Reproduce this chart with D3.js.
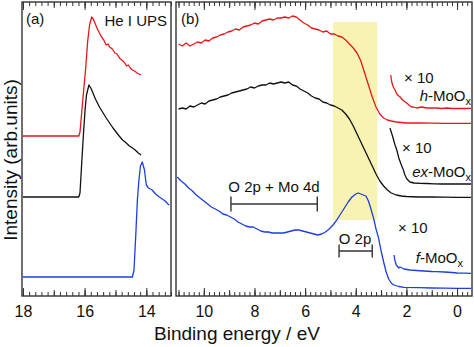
<!DOCTYPE html>
<html>
<head>
<meta charset="utf-8">
<script src="https://cdn.jsdelivr.net/npm/d3@7"></script>
<style>
  body { margin: 0; background: #fff; }
  svg { font-family: "Liberation Sans", Arial, sans-serif; }
</style>
</head>
<body>
<svg id="chart" width="474" height="347"></svg>
<script>
// He I UPS, secondary electron cutoff (binding energy eV, intensity)
const cutoffH = [[18.0,160],[16.19,160],[16.15,164],[16.06,196],[15.97,226],[15.9,255],[15.84,271],[15.77,279],[15.72,277],[15.68,274],[15.6,268],[15.52,263],[15.45,259],[15.38,256],[15.3,251],[15.24,252],[15.19,249],[15.1,247],[15.02,243],[14.95,242],[14.87,238],[14.8,236],[14.72,234],[14.64,230],[14.58,231],[14.52,228],[14.45,226],[14.38,225],[14.3,223],[14.24,222],[14.17,221]];
const cutoffEx = [[18.0,99],[16.19,99],[16.15,103],[16.09,135],[16.03,166],[15.98,188],[15.94,201],[15.86,211],[15.8,208],[15.77,206],[15.65,197],[15.52,189],[15.42,184],[15.3,178],[15.19,173],[15.08,168],[14.98,164],[14.88,160],[14.77,156],[14.65,153],[14.55,150],[14.45,148],[14.36,146],[14.26,143],[14.17,141]];
const cutoffF = [[18.0,19],[14.45,19],[14.4,26],[14.34,62],[14.29,96],[14.24,116],[14.19,130],[14.13,134],[14.06,126],[14.0,111],[13.93,108],[13.81,106],[13.7,102],[13.58,99],[13.48,97],[13.39,95],[13.3,92],[13.26,91]];

// valence band region
const vbH = [[11.0,252],[10.85,250],[10.7,253],[10.55,250],[10.4,252],[10.25,254],[10.1,253],[9.95,256],[9.8,255],[9.65,258],[9.5,259],[9.35,261],[9.2,262],[9.05,264],[8.9,265],[8.75,267],[8.6,266],[8.45,269],[8.3,270],[8.15,271],[8.0,273],[7.85,272],[7.7,275],[7.55,276],[7.4,277],[7.25,276],[7.1,278],[6.95,278],[6.8,279],[6.65,278],[6.5,280],[6.35,279],[6.2,276],[6.05,273],[5.9,271],[5.75,268],[5.6,267],[5.45,266],[5.3,264],[5.15,265],[5.0,262],[4.85,262],[4.7,260],[4.55,259],[4.4,256],[4.25,252],[4.1,248],[3.95,243],[3.8,235],[3.65,223],[3.5,211],[3.35,199],[3.2,189],[3.05,182],[2.9,178],[2.75,176],[2.6,175],[2.4,174],[2.2,173.5],[2.0,173],[1.5,173],[1.0,172.8],[0.5,172.7],[0,172.6],[-0.55,172.6]];
const vbEx = [[11.0,187],[10.85,188],[10.7,187],[10.55,190],[10.4,189],[10.25,191],[10.1,193],[9.95,192],[9.8,195],[9.65,196],[9.5,197],[9.35,199],[9.2,200],[9.05,201],[8.9,203],[8.75,204],[8.6,205],[8.45,206],[8.3,207],[8.15,209],[8.0,208],[7.85,210],[7.7,211],[7.55,211],[7.4,213],[7.25,212],[7.1,213],[6.95,214],[6.8,213],[6.65,214],[6.5,211],[6.35,210],[6.2,207],[6.05,205],[5.9,203],[5.75,200],[5.6,198],[5.45,197],[5.3,194],[5.15,193],[5.0,191],[4.85,190],[4.7,188],[4.55,186],[4.4,182],[4.25,177],[4.1,170],[3.95,162],[3.8,154],[3.65,146],[3.5,138],[3.35,130],[3.2,122],[3.05,115],[2.9,110],[2.75,106],[2.6,103],[2.4,101],[2.2,100],[2.0,99.5],[1.5,99],[1.0,99],[0.5,98.8],[0,98.7],[-0.55,98.7]];
const vbF = [[11.05,119],[10.9,115],[10.75,112],[10.6,108],[10.45,105],[10.3,101],[10.15,98],[10.0,95],[9.85,92],[9.7,89],[9.55,87],[9.4,85],[9.25,82],[9.1,81],[8.95,79],[8.8,77],[8.65,74],[8.5,72],[8.35,70],[8.2,69],[8.05,69],[7.9,67],[7.75,65],[7.6,64],[7.45,64],[7.3,63],[7.15,63],[7.0,63],[6.85,63],[6.7,64],[6.55,65],[6.4,66],[6.25,66],[6.1,65],[5.95,64],[5.8,63],[5.65,62],[5.5,61],[5.35,62],[5.2,64],[5.05,67],[4.9,71],[4.75,76],[4.6,82],[4.45,88],[4.3,94],[4.15,99],[4.0,102],[3.9,103],[3.8,102],[3.7,101],[3.6,100],[3.5,95],[3.4,87],[3.3,78],[3.2,67],[3.1,58],[3.0,45],[2.9,34],[2.8,24],[2.7,17],[2.6,13],[2.5,11],[2.3,9.5],[2.1,8.7],[1.5,8.3],[1.0,8.0],[0.5,7.8],[0,7.7],[-0.55,7.6]];

// gap region magnified x10
const gapH = [[2.62,221],[2.58,214],[2.52,209],[2.45,206],[2.38,202],[2.3,200],[2.25,199],[2.15,196],[2.05,194],[1.99,193],[1.9,191],[1.8,189],[1.73,189],[1.6,188],[1.4,189],[1.2,188],[1.0,188],[0.8,188],[0.6,187.5],[0.4,188],[0.2,187.5],[0,187.7],[-0.3,187.5],[-0.55,187.7]];
const gapEx = [[2.65,168],[2.55,160],[2.45,151],[2.38,146],[2.3,138],[2.2,131],[2.12,126],[2.06,121],[1.98,117],[1.86,114],[1.7,113],[1.46,112.7],[1.2,112.5],[0.9,112.2],[0.6,112],[0.3,112],[0,112],[-0.3,112],[-0.55,112]];
const gapF = [[2.49,41],[2.45,35],[2.4,31],[2.3,28],[2.25,29],[2.1,27],[1.86,26],[1.6,25.5],[1.3,25],[1.0,24.5],[0.8,24.3],[0.5,24],[0.2,23.5],[0,23],[-0.3,22.8],[-0.55,22.7]];

const ticksA = [18, 16, 14];
const ticksB = [10, 8, 6, 4, 2, 0];
const band = [4.9, 3.15];          // highlighted energy window
const bandLevels = [76, 274];
const rangeMo = [8.93, 5.52];      // O 2p + Mo 4d
const rangeO = [4.66, 3.35];       // O 2p
const colors = { h: "#e8161c", ex: "#111111", f: "#1d3fe0" };

const svg = d3.select("#chart");
const yTop = 2, yBottom = 296;

const xa = d3.scaleLinear().domain([18.03, 13.2]).range([22, 171]);
const xb = d3.scaleLinear().domain([11.1, -0.59]).range([176, 472]);
const y = d3.scaleLinear().domain([0, 294]).range([yBottom, yTop]);

function stepTicks(x, step) {
  const [a, b] = x.domain();
  const lo = Math.min(a, b), hi = Math.max(a, b);
  const out = [];
  for (let i = Math.ceil(lo / step - 1e-6); i * step <= hi + 1e-6; i++) out.push(+(i * step).toFixed(2));
  return out;
}

function drawAxes(x, labels) {
  const minor = stepTicks(x, 0.2);
  const mid = stepTicks(x, 1);
  const specs = [[minor, 4], [mid, 6], [labels, 8]];
  specs.forEach(([vals, len]) => {
    svg.append("g")
      .attr("transform", `translate(0,${yBottom})`)
      .call(d3.axisBottom(x).tickValues(vals).tickSize(-len).tickFormat(""))
      .call(g => g.select(".domain").remove());
    svg.append("g")
      .attr("transform", `translate(0,${yTop})`)
      .call(d3.axisTop(x).tickValues(vals).tickSize(-len).tickFormat(""))
      .call(g => g.select(".domain").remove());
  });
  svg.append("g")
    .attr("transform", `translate(0,${yBottom})`)
    .call(d3.axisBottom(x).tickValues(labels).tickSize(0).tickPadding(10).tickFormat(d3.format("d")))
    .call(g => g.select(".domain").remove())
    .selectAll("text")
    .attr("font-size", 16)
    .attr("fill", "#111")
    .attr("font-family", "Liberation Sans, Arial, sans-serif");
  svg.selectAll(".tick line").attr("stroke", "#333");
}

// highlight band behind panel (b) curves
svg.append("rect")
  .attr("x", xb(band[0]))
  .attr("width", xb(band[1]) - xb(band[0]))
  .attr("y", y(bandLevels[1]))
  .attr("height", y(bandLevels[0]) - y(bandLevels[1]))
  .attr("fill", "#f8f3b2");

const line = (x) => d3.line().x(d => x(d[0])).y(d => y(d[1]));

function curve(x, data, color) {
  svg.append("path").datum(data)
    .attr("d", line(x))
    .attr("fill", "none")
    .attr("stroke", color)
    .attr("stroke-width", 1.3)
    .attr("stroke-linejoin", "round");
}

curve(xa, cutoffH, colors.h);
curve(xa, cutoffEx, colors.ex);
curve(xa, cutoffF, colors.f);
curve(xb, vbH, colors.h);
curve(xb, vbEx, colors.ex);
curve(xb, vbF, colors.f);
curve(xb, gapH, colors.h);
curve(xb, gapEx, colors.ex);
curve(xb, gapF, colors.f);

drawAxes(xa, ticksA);
drawAxes(xb, ticksB);

// panel frames
[xa, xb].forEach(x => {
  const [x0, x1] = x.range();
  svg.append("rect")
    .attr("x", x0).attr("y", yTop)
    .attr("width", x1 - x0).attr("height", yBottom - yTop)
    .attr("fill", "none").attr("stroke", "#333").attr("stroke-width", 1.4);
});

// range brackets
function bracket(r, level, cap) {
  const g = svg.append("g").attr("stroke", "#333").attr("stroke-width", 1.4);
  g.append("line").attr("x1", xb(r[0])).attr("x2", xb(r[1])).attr("y1", y(level)).attr("y2", y(level));
  r.forEach(v => g.append("line").attr("x1", xb(v)).attr("x2", xb(v))
    .attr("y1", y(level) - cap).attr("y2", y(level) + cap));
}
bracket(rangeMo, 92, 7.5);
bracket(rangeO, 45, 6.5);

function text(x, yy, str, opts = {}) {
  return svg.append("text").attr("x", x).attr("y", yy)
    .attr("font-size", opts.size || 15)
    .attr("text-anchor", opts.anchor || "start")
    .attr("fill", "#111")
    .text(str);
}

text(26, 24, "(a)");
text(167, 26, "He I UPS", { anchor: "end" });
text(181, 24, "(b)");
text(274, 192, "O 2p + Mo 4d", { anchor: "middle" });
text(355, 244, "O 2p", { anchor: "middle" });
text(404, 83, "× 10");
text(402, 153, "× 10");
text(398, 233, "× 10");

function sampleLabel(x, yy, prefix) {
  const t = svg.append("text").attr("x", x).attr("y", yy)
    .attr("font-size", 15).attr("text-anchor", "end").attr("fill", "#111");
  t.append("tspan").attr("font-style", "italic").text(prefix);
  t.append("tspan").text("-MoO");
  t.append("tspan").attr("font-size", 11).attr("dy", 4).text("x");
}
sampleLabel(471, 101, "h");
sampleLabel(471, 177, "ex");
sampleLabel(463, 263, "f");

// axis titles
svg.append("text")
  .attr("x", 237).attr("y", 340)
  .attr("text-anchor", "middle").attr("font-size", 19).attr("fill", "#111")
  .text("Binding energy / eV");
svg.append("text")
  .attr("transform", "translate(17,160) rotate(-90)")
  .attr("text-anchor", "middle").attr("font-size", 19).attr("fill", "#111")
  .text("Intensity (arb.units)");
</script>
</body>
</html>
